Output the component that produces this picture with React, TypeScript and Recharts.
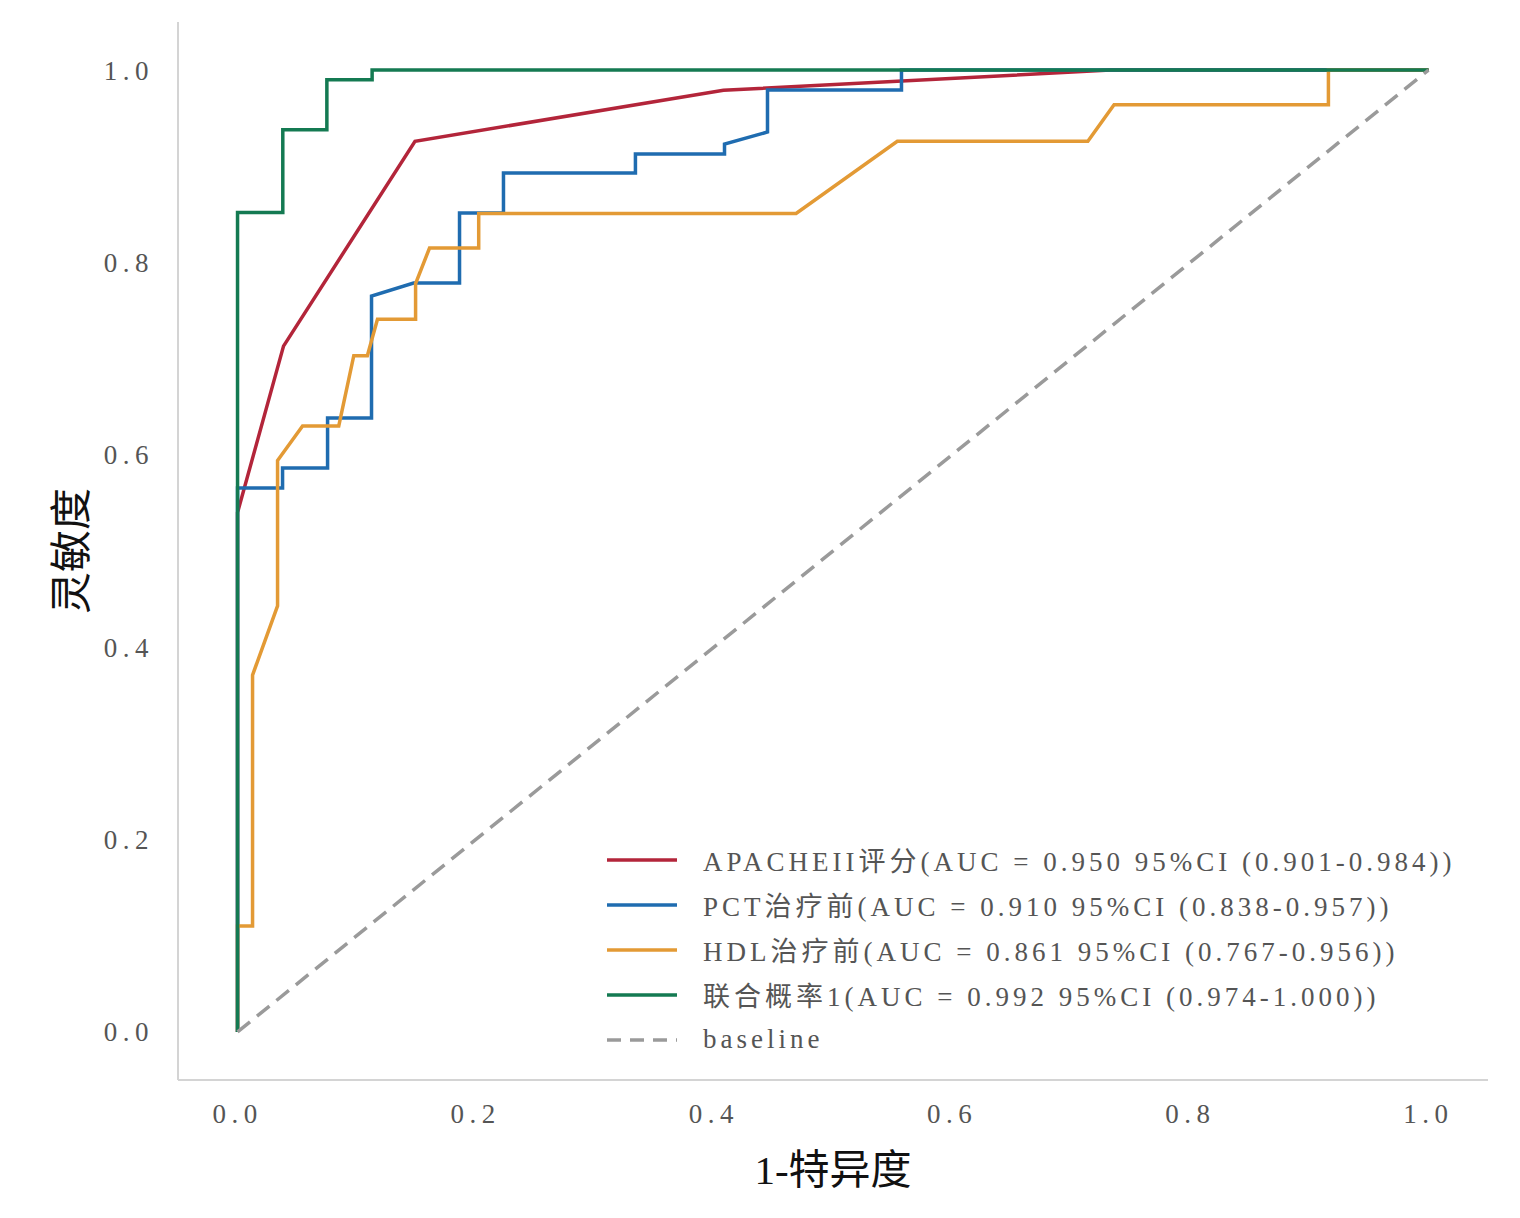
import React from 'react';
import { LineChart, Line, XAxis, YAxis } from 'recharts';

// ---- data ----
const apacheFpr = [0, 0, 0.0386, 0.149, 0.408, 0.733, 1];
const apacheTpr = [0, 0.54, 0.713, 0.926, 0.979, 1.0, 1.0];

const pctFpr = [0, 0, 0.0378, 0.0378, 0.0756, 0.0756, 0.1125, 0.1125, 0.1478, 0.1864, 0.1864, 0.2233, 0.2233, 0.3341, 0.3341, 0.4089, 0.4089, 0.445, 0.445, 0.5575, 0.5575, 1];
const pctTpr = [0, 0.5655, 0.5655, 0.5863, 0.5863, 0.6383, 0.6383, 0.7651, 0.7786, 0.7786, 0.8514, 0.8514, 0.8929, 0.8929, 0.9127, 0.9127, 0.9231, 0.9356, 0.9792, 0.9792, 1, 1];

const hdlFpr = [0, 0, 0.0126, 0.0126, 0.0336, 0.0336, 0.0546, 0.085, 0.0976, 0.109, 0.1175, 0.1495, 0.1495, 0.1612, 0.2025, 0.2025, 0.469, 0.554, 0.714, 0.736, 0.916, 0.916, 1];
const hdlTpr = [0, 0.11, 0.11, 0.371, 0.443, 0.594, 0.63, 0.63, 0.703, 0.703, 0.741, 0.741, 0.778, 0.815, 0.815, 0.851, 0.851, 0.926, 0.926, 0.964, 0.964, 1, 1];

const combFpr = [0, 0, 0.038, 0.038, 0.075, 0.075, 0.113, 0.113, 1];
const combTpr = [0, 0.852, 0.852, 0.938, 0.938, 0.99, 0.99, 1, 1];

const baseFpr = [0, 1];
const baseTpr = [0, 1];

const ticks = [0, 0.2, 0.4, 0.6, 0.8, 1.0];

const seriesNames = [
  'APACHEII评分(AUC = 0.950 95%CI (0.901-0.984))',
  'PCT治疗前(AUC = 0.910 95%CI (0.838-0.957))',
  'HDL治疗前(AUC = 0.861 95%CI (0.767-0.956))',
  '联合概率1(AUC = 0.992 95%CI (0.974-1.000))',
  'baseline',
];
const seriesColors = ['#b3253a', '#1f6cb0', '#e39a35', '#147a52', '#9a9a9a'];

const zip = (xs: number[], ys: number[]) => xs.map((x, i) => ({ x, y: ys[i] }));

const series = [
  zip(apacheFpr, apacheTpr),
  zip(pctFpr, pctTpr),
  zip(hdlFpr, hdlTpr),
  zip(combFpr, combTpr),
  zip(baseFpr, baseTpr),
];

const FONT = '"Liberation Serif", "DejaVu Serif", "Noto Sans CJK SC", serif';

const LegendBox = () => (
  <div style={{ position: 'absolute', left: 607, top: 837, fontFamily: FONT }}>
    {seriesNames.map((n, i) => (
      <div key={n} style={{ display: 'flex', alignItems: 'center', height: 45 }}>
        <svg width={70} height={10} style={{ marginRight: 26 }}>
          <line
            x1={0}
            x2={70}
            y1={5}
            y2={5}
            stroke={seriesColors[i]}
            strokeWidth={3.5}
            strokeDasharray={i === 4 ? '14 9' : undefined}
          />
        </svg>
        <span style={{ fontSize: 27, color: '#555', letterSpacing: 4, whiteSpace: 'nowrap' }}>{n}</span>
      </div>
    ))}
  </div>
);

const YLabel = (props: any) => {
  const vb = props.viewBox;
  const cx = vb.x + 44;
  const cy = vb.y + vb.height / 2;
  return (
    <text
      x={cx}
      y={cy}
      transform={`rotate(-90 ${cx} ${cy})`}
      textAnchor="middle"
      dominantBaseline="central"
      fontSize={42}
      fontFamily={FONT}
      fill="#111"
    >
      灵敏度
    </text>
  );
};

const XLabel = (props: any) => {
  const vb = props.viewBox;
  return (
    <text
      x={vb.x + vb.width / 2}
      y={vb.y + 90}
      textAnchor="middle"
      dominantBaseline="central"
      fontSize={41}
      fontFamily={FONT}
      fill="#111"
    >
      1-特异度
    </text>
  );
};

export default function App() {
  return (
    <div style={{ position: 'absolute', left: 0, top: 0, width: 1520, height: 1218, background: '#fff' }}>
      <LineChart
        width={1520}
        height={1218}
        margin={{ top: 22, right: 32, bottom: 28, left: 28 }}
      >
        <XAxis
          type="number"
          dataKey="x"
          domain={[-0.05, 1.05]}
          ticks={ticks}
          tickFormatter={(v: number) => v.toFixed(1)}
          axisLine={{ stroke: '#d4d4d4', strokeWidth: 2 }}
          tickLine={false}
          tickSize={0}
          tickMargin={24}
          height={110}
          allowDataOverflow
          tick={{ fontSize: 27, fill: '#555', fontFamily: FONT, letterSpacing: 5.5 }}
          label={<XLabel />}
        />
        <YAxis
          type="number"
          dataKey="y"
          domain={[-0.05, 1.05]}
          ticks={ticks}
          tickFormatter={(v: number) => v.toFixed(1)}
          axisLine={{ stroke: '#d4d4d4', strokeWidth: 2 }}
          tickLine={false}
          tickSize={0}
          tickMargin={24}
          width={150}
          allowDataOverflow
          tick={{ fontSize: 27, fill: '#555', fontFamily: FONT, letterSpacing: 5.5 }}
          label={<YLabel />}
        />
        {series.map((d, i) => (
          <Line
            key={seriesNames[i]}
            data={d}
            dataKey="y"
            name={seriesNames[i]}
            type="linear"
            stroke={seriesColors[i]}
            strokeWidth={3.5}
            strokeDasharray={i === 4 ? '16 9' : undefined}
            dot={false}
            activeDot={false}
            isAnimationActive={false}
          />
        ))}
      </LineChart>
      <LegendBox />
    </div>
  );
}
